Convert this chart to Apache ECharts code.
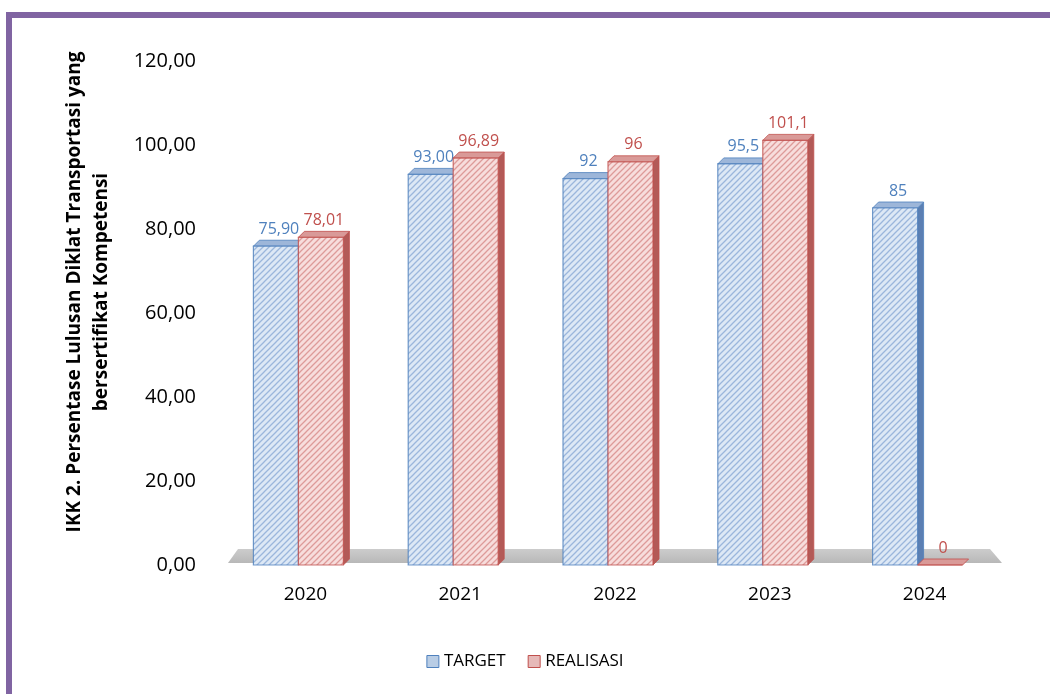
<!DOCTYPE html>
<html>
<head>
<meta charset="utf-8">
<script src="https://cdn.jsdelivr.net/npm/echarts@6/dist/echarts.min.js"></script>
<style>
html, body { margin: 0; padding: 0; background: #fff; }
#frame {
    position: absolute; left: 6px; top: 12px; right: 0; bottom: 0;
    border-left: 6px solid #8064a2; border-top: 6px solid #8064a2;
}
#chart { position: absolute; left: 0; top: 0; width: 1050px; height: 694px; }
</style>
</head>
<body>
<div id="frame"></div>
<div id="chart"></div>
<script>
// data
var years = ['2020', '2021', '2022', '2023', '2024'];
var target = [75.90, 93.00, 92, 95.5, 85];
var realisasi = [78.01, 96.89, 96, 101.1, 0];
var targetLabels = ['75,90', '93,00', '92', '95,5', '85'];
var realisasiLabels = ['78,01', '96,89', '96', '101,1', '0'];

var font = '"Open Sans", "Noto Sans", sans-serif';

// hatch pattern for the bar faces
function hatch(base, line) {
    var c = document.createElement('canvas');
    c.width = 6; c.height = 6;
    var ctx = c.getContext('2d');
    ctx.fillStyle = base;
    ctx.fillRect(0, 0, 6, 6);
    ctx.strokeStyle = line;
    ctx.lineWidth = 1.3;
    ctx.beginPath();
    ctx.moveTo(-1, 7); ctx.lineTo(7, -1);
    ctx.moveTo(-1, 1); ctx.lineTo(1, -1);
    ctx.moveTo(5, 7); ctx.lineTo(7, 5);
    ctx.stroke();
    return { image: c, repeat: 'repeat' };
}

var styles = [
    { front: hatch('#dde8f5', '#9bb6dc'), top: '#9db6d9', side: '#5b7fb3', border: 'rgba(79,129,189,0.8)', text: '#4f81bd' },
    { front: hatch('#f7dddc', '#dd9b99'), top: '#d99a98', side: '#b35a57', border: 'rgba(192,80,77,0.8)', text: '#c0504d' }
];

var BW = 45, DX = 6, DY = 6, SHIFT = -7;

function barItem(idx, labels) {
    return function (params, api) {
        var top = api.coord([api.value(0), api.value(1)]);
        var base = api.coord([api.value(0), 0]);
        var st = styles[idx];
        var x0 = top[0] + SHIFT + (idx === 0 ? -BW : 0);
        var x1 = x0 + BW;
        var yt = top[1], yb = base[1];
        var children = [];
        if (yb - yt > 0.5) {
            children.push({
                type: 'polygon',
                shape: { points: [[x1, yt], [x1 + DX, yt - DY], [x1 + DX, yb - DY], [x1, yb]] },
                style: { fill: st.side, stroke: st.border, lineWidth: 1 }
            });
        }
        children.push({
            type: 'polygon',
            shape: { points: [[x0, yt], [x0 + DX, yt - DY], [x1 + DX, yt - DY], [x1, yt]] },
            style: { fill: st.top, stroke: st.border, lineWidth: 1 }
        });
        children.push({
            type: 'rect',
            shape: { x: x0, y: yt, width: BW, height: Math.max(yb - yt, 0) },
            style: { fill: st.front, stroke: st.border, lineWidth: 1.2 }
        });
        children.push({
            type: 'text',
            style: {
                x: (x0 + x1) / 2 + DX / 2, y: yt - DY - 3,
                text: labels[params.dataIndex],
                fill: st.text, font: '16px ' + font,
                align: 'center', verticalAlign: 'bottom'
            }
        });
        return { type: 'group', children: children };
    };
}

var chart = echarts.init(document.getElementById('chart'), null, { renderer: 'canvas' });

var option = {
    animation: false,
    grid: { left: 228, right: 48, top: 61, bottom: 129, containLabel: false },
    graphic: [{
        type: 'text',
        x: 88,
        y: 292,
        rotation: Math.PI / 2,
        style: {
            text: 'IKK 2. Persentase Lulusan Diklat Transportasi yang\nbersertifikat Kompetensi',
            fill: '#000',
            font: 'bold 19px ' + font,
            lineHeight: 27,
            align: 'center',
            verticalAlign: 'middle'
        }
    }],
    legend: {
        bottom: 19,
        left: 'center',
        itemWidth: 12,
        itemHeight: 12,
        itemGap: 22,
        textStyle: { fontFamily: font, fontSize: 17, color: '#000' },
        data: [
            { name: 'TARGET', icon: 'rect', itemStyle: { color: '#b9cde5', borderColor: '#4f81bd', borderWidth: 1 } },
            { name: 'REALISASI', icon: 'rect', itemStyle: { color: '#e6b9b8', borderColor: '#c0504d', borderWidth: 1 } }
        ]
    },
    xAxis: {
        type: 'category',
        data: years,
        axisLine: { show: false },
        axisTick: { show: false },
        axisLabel: { color: '#000', fontFamily: font, fontSize: 19, margin: 20 }
    },
    yAxis: {
        type: 'value',
        min: 0,
        max: 120,
        interval: 20,
        axisLine: { show: false },
        axisTick: { show: false },
        splitLine: { show: false },
        axisLabel: {
            color: '#000', fontFamily: font, fontSize: 20, margin: 32,
            formatter: function (v) { return v.toFixed(2).replace('.', ','); }
        }
    },
    series: [
        {
            name: 'floor',
            type: 'custom',
            silent: true,
            z: 1,
            data: [[0, 0]],
            renderItem: function (params, api) {
                var cs = params.coordSys;
                var yb = cs.y + cs.height - 2, yt = yb - 14;
                var xl = cs.x, xr = cs.x + cs.width;
                return {
                    type: 'polygon',
                    shape: { points: [[xl, yb], [xl + 10, yt], [xr - 12, yt], [xr, yb]] },
                    style: {
                        fill: new echarts.graphic.LinearGradient(0, 0, 0, 1, [
                            { offset: 0, color: '#cccccc' }, { offset: 1, color: '#b8b8b8' }
                        ])
                    }
                };
            }
        },
        {
            name: 'TARGET',
            type: 'custom',
            z: 2,
            itemStyle: { color: '#b9cde5' },
            data: target.map(function (v, i) { return [i, v]; }),
            renderItem: barItem(0, targetLabels)
        },
        {
            name: 'REALISASI',
            type: 'custom',
            z: 3,
            itemStyle: { color: '#e6b9b8' },
            data: realisasi.map(function (v, i) { return [i, v]; }),
            renderItem: barItem(1, realisasiLabels)
        }
    ]
};

chart.setOption(option);
</script>
</body>
</html>
